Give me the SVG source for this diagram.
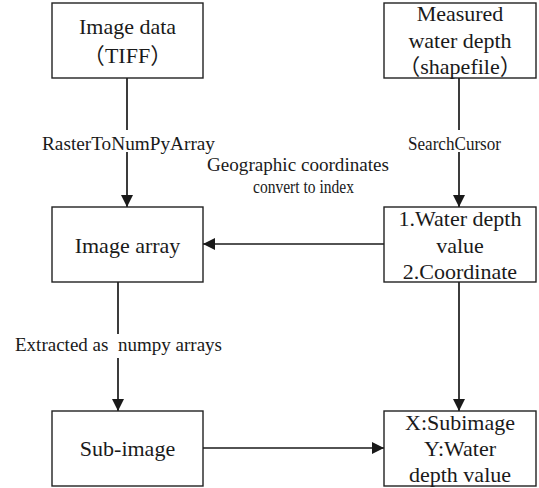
<svg xmlns="http://www.w3.org/2000/svg" width="539" height="488" viewBox="0 0 539 488" font-family="Liberation Serif, DejaVu Serif, serif">
<defs>
<marker id="arr" markerUnits="userSpaceOnUse" markerWidth="12" markerHeight="12" refX="12" refY="6" orient="auto">
<path d="M0,0 L12,6 L0,12 z" fill="#1a1a1a"/>
</marker>
<style>
.box{fill:#fff;stroke:#222;stroke-width:1.4}
.t{font-size:22px;fill:#1a1a1a;text-anchor:middle}
.l{font-size:18px;fill:#1a1a1a}
.c{fill:none;stroke:#1a1a1a;stroke-width:1.7;marker-end:url(#arr)}
</style>
</defs>
<rect width="539" height="488" fill="#fff"/>
<g id="connectors">
<path class="c" d="M127,78 V130 M127,152 V207"/>
<path class="c" d="M459,78 V130 M459,152 V207"/>
<path class="c" d="M384,244 H203"/>
<path class="c" d="M118,282 V334 M118,358 V411"/>
<path class="c" d="M459,282 V411"/>
<path class="c" d="M203,448 H384"/>
</g>
<g id="labels">
<text class="l" x="42" y="150" textLength="173" lengthAdjust="spacingAndGlyphs">RasterToNumPyArray</text>
<text class="l" x="408" y="150" textLength="93" lengthAdjust="spacingAndGlyphs">SearchCursor</text>
<text class="l" x="207" y="171" textLength="182" lengthAdjust="spacingAndGlyphs">Geographic coordinates</text>
<text class="l" x="253" y="193" textLength="101" lengthAdjust="spacingAndGlyphs">convert to index</text>
<text class="l" x="15" y="351" textLength="207" lengthAdjust="spacingAndGlyphs" xml:space="preserve">Extracted as  numpy arrays</text>
</g>
<g id="image-data">
<rect class="box" x="52" y="3" width="151" height="75"/>
<text class="t" x="127.5" y="34">Image data</text>
<text class="t" x="127.5" y="63"><tspan font-family="Noto Sans CJK SC, sans-serif">（</tspan>TIFF<tspan font-family="Noto Sans CJK SC, sans-serif">）</tspan></text>
</g>
<g id="measured-depth">
<rect class="box" x="384" y="3" width="152" height="75"/>
<text class="t" x="460" y="21">Measured</text>
<text class="t" x="460" y="47.5">water depth</text>
<text class="t" x="460" y="74"><tspan font-family="Noto Sans CJK SC, sans-serif">（</tspan>shapefile<tspan font-family="Noto Sans CJK SC, sans-serif">）</tspan></text>
</g>
<g id="image-array">
<rect class="box" x="52" y="207" width="151" height="75"/>
<text class="t" x="127.5" y="253">Image array</text>
</g>
<g id="depth-coord">
<rect class="box" x="384" y="207" width="152" height="75"/>
<text class="t" x="460" y="226">1.Water depth</text>
<text class="t" x="460" y="253">value</text>
<text class="t" x="460" y="279">2.Coordinate</text>
</g>
<g id="sub-image">
<rect class="box" x="52" y="411" width="151" height="75"/>
<text class="t" x="127.5" y="456">Sub-image</text>
</g>
<g id="xy">
<rect class="box" x="384" y="411" width="152" height="75"/>
<text class="t" x="460" y="429.5">X:Subimage</text>
<text class="t" x="460" y="456">Y:Water</text>
<text class="t" x="460" y="482">depth value</text>
</g>
</svg>
